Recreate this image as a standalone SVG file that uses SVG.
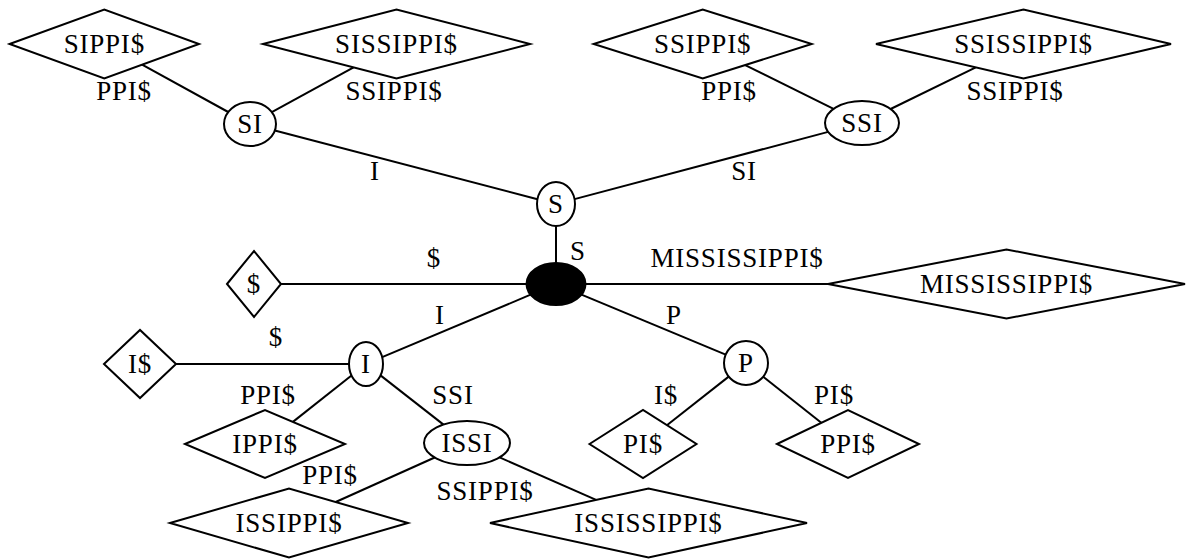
<svg xmlns="http://www.w3.org/2000/svg" width="1186" height="559" viewBox="0 0 1186 559">
<style>
  .shape { fill: #fff; stroke: #000; stroke-width: 2; }
  .root { fill: #000; stroke: #000; stroke-width: 2; }
  .edge { stroke: #000; stroke-width: 2; fill: none; }
  text { font-family: "Liberation Serif", "Times New Roman", serif; font-size: 27px; letter-spacing: 0.8px; fill: #000; text-anchor: middle; }
</style>
<rect width="1186" height="559" fill="#fff"/>
<g id="connectors">
  <line class="edge" x1="228.2" y1="112" x2="142.1" y2="64.7"/>
  <line class="edge" x1="271.8" y1="112.1" x2="353.6" y2="67.4"/>
  <line class="edge" x1="274.8" y1="130.5" x2="537.5" y2="199.2"/>
  <line class="edge" x1="833.6" y1="108.9" x2="745.2" y2="65.1"/>
  <line class="edge" x1="890.6" y1="109" x2="975.8" y2="67.3"/>
  <line class="edge" x1="828.2" y1="131.9" x2="574.5" y2="199.1"/>
  <line class="edge" x1="556" y1="226" x2="556" y2="263"/>
  <line class="edge" x1="526.5" y1="284" x2="281" y2="284"/>
  <line class="edge" x1="585.5" y1="284" x2="828" y2="284"/>
  <line class="edge" x1="530.6" y1="294.7" x2="382.2" y2="357.2"/>
  <line class="edge" x1="581.5" y1="294.6" x2="725.7" y2="354.6"/>
  <line class="edge" x1="349" y1="364" x2="176" y2="364"/>
  <line class="edge" x1="351.5" y1="375.5" x2="292.9" y2="421.9"/>
  <line class="edge" x1="380.5" y1="375.4" x2="443.5" y2="424.6"/>
  <line class="edge" x1="434.7" y1="457.5" x2="335.7" y2="502"/>
  <line class="edge" x1="499.6" y1="457.4" x2="596.1" y2="499.9"/>
  <line class="edge" x1="728.7" y1="376.6" x2="666.9" y2="425.2"/>
  <line class="edge" x1="763.2" y1="376.7" x2="821.3" y2="422.8"/>
  <text x="124" y="100">PPI$</text>
  <text x="394" y="100">SSIPPI$</text>
  <text x="375" y="180">I</text>
  <text x="729" y="100">PPI$</text>
  <text x="1015" y="100">SSIPPI$</text>
  <text x="744" y="180">SI</text>
  <text x="578" y="260">S</text>
  <text x="434" y="267">$</text>
  <text x="737" y="267">MISSISSIPPI$</text>
  <text x="440" y="324">I</text>
  <text x="674" y="324">P</text>
  <text x="276" y="346">$</text>
  <text x="268" y="404">PPI$</text>
  <text x="453" y="404">SSI</text>
  <text x="330" y="484">PPI$</text>
  <text x="485" y="500">SSIPPI$</text>
  <text x="666" y="404">I$</text>
  <text x="834" y="404">PI$</text>
</g>
<g id="n-SIPPI">
  <polygon class="shape" points="9.6,44 104.3,9.5 199,44 104.3,78.5"/>
  <text x="104.3" y="53">SIPPI$</text>
</g>
<g id="n-SISSIPPI">
  <polygon class="shape" points="263,44 396.5,9.5 530,44 396.5,78.5"/>
  <text x="396.5" y="53">SISSIPPI$</text>
</g>
<g id="n-SSIPPI">
  <polygon class="shape" points="593.7,44 702.7,9.5 811.7,44 702.7,78.5"/>
  <text x="702.7" y="53">SSIPPI$</text>
</g>
<g id="n-SSISSIPPI">
  <polygon class="shape" points="876,44 1023.5,9.5 1171,44 1023.5,78.5"/>
  <text x="1023.5" y="53">SSISSIPPI$</text>
</g>
<g id="n-SI">
  <ellipse class="shape" cx="250" cy="124" rx="26" ry="22"/>
  <text x="250" y="133">SI</text>
</g>
<g id="n-SSI">
  <ellipse class="shape" cx="862" cy="123" rx="37" ry="22"/>
  <text x="862" y="132">SSI</text>
</g>
<g id="n-S">
  <ellipse class="shape" cx="556" cy="204" rx="19" ry="22"/>
  <text x="556" y="213">S</text>
</g>
<g id="n-root">
  <ellipse class="root" cx="556" cy="284" rx="29.5" ry="21"/>
</g>
<g id="n-dollar">
  <polygon class="shape" points="227,284 254,251 281,284 254,317"/>
  <text x="254" y="293">$</text>
</g>
<g id="n-MISSISSIPPI">
  <polygon class="shape" points="828,284 1006.5,249.5 1185,284 1006.5,318.5"/>
  <text x="1006.5" y="293">MISSISSIPPI$</text>
</g>
<g id="n-I">
  <ellipse class="shape" cx="366" cy="364" rx="17" ry="22"/>
  <text x="366" y="373">I</text>
</g>
<g id="n-Idollar">
  <polygon class="shape" points="104,364 140,330 176,364 140,398"/>
  <text x="140" y="373">I$</text>
</g>
<g id="n-P">
  <circle class="shape" cx="746" cy="363" r="22"/>
  <text x="746" y="372">P</text>
</g>
<g id="n-IPPI">
  <polygon class="shape" points="185,444 265,410 345,444 265,478"/>
  <text x="265" y="453">IPPI$</text>
</g>
<g id="n-ISSI">
  <ellipse class="shape" cx="467" cy="443" rx="43" ry="22"/>
  <text x="467" y="452">ISSI</text>
</g>
<g id="n-PI">
  <polygon class="shape" points="589.5,444 643,410 696.5,444 643,478"/>
  <text x="643" y="453">PI$</text>
</g>
<g id="n-PPI">
  <polygon class="shape" points="777,444 848,410 919,444 848,478"/>
  <text x="848" y="453">PPI$</text>
</g>
<g id="n-ISSIPPI">
  <polygon class="shape" points="170,523 289,488.5 408,523 289,557.5"/>
  <text x="289" y="532">ISSIPPI$</text>
</g>
<g id="n-ISSISSIPPI">
  <polygon class="shape" points="490,523 648.5,488.5 807,523 648.5,557.5"/>
  <text x="648.5" y="532">ISSISSIPPI$</text>
</g>
</svg>
